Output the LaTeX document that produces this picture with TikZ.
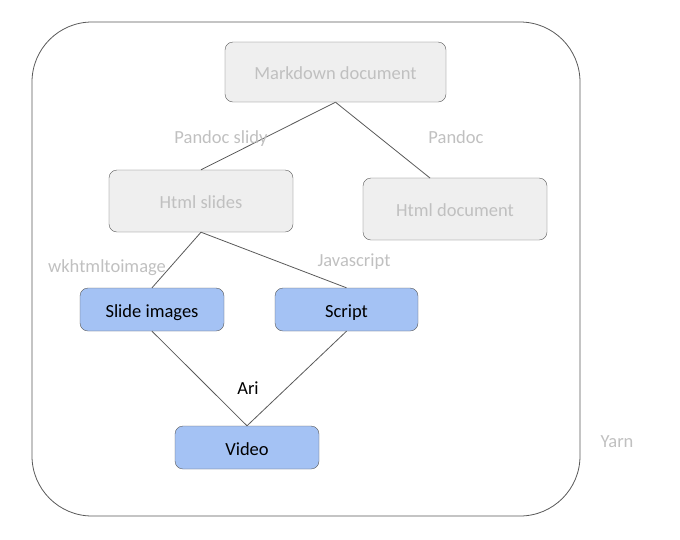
\documentclass[tikz,border=0pt]{standalone}
\usepackage{fontspec}
\setmainfont{Carlito}
\definecolor{greyfill}{HTML}{EFEFEF}
\definecolor{greytext}{HTML}{C0C0C0}
\definecolor{bluefill}{HTML}{A4C2F4}
\definecolor{edgecol}{HTML}{595959}
\tikzset{
  txt/.style={inner sep=0pt, text height=15pt, text depth=0pt, font=\fontsize{18.5}{22}\selectfont},
  greybox/.style={txt, draw=edgecol, fill=greyfill, rounded corners=8pt, text=greytext},
  bluebox/.style={txt, draw=edgecol, fill=bluefill, rounded corners=8pt, text=black},
  conn/.style={draw=edgecol, line width=0.8pt},
  greylabel/.style={txt, text=greytext},
  blacklabel/.style={txt, text=black},
}
\begin{document}
\begin{tikzpicture}[x=1pt,y=-1pt]
\useasboundingbox (0,0) rectangle (680,539);
\node[draw=edgecol, line width=0.8pt, rounded corners=60pt, minimum width=548pt, minimum height=494pt, inner sep=0pt] (yarnbox) at (306,269) {};
\node[greybox, minimum width=221pt, minimum height=60pt] (md) at (335.5,72) {Markdown document};
\node[greybox, minimum width=184pt, minimum height=62pt] (hs) at (201,201) {Html slides};
\node[greybox, minimum width=184pt, minimum height=62pt] (hd) at (455,209) {Html document};
\node[bluebox, minimum width=144pt, minimum height=43pt] (si) at (152,309.5) {Slide images};
\node[bluebox, minimum width=143pt, minimum height=43pt] (sc) at (346.5,309.5) {Script};
\node[bluebox, minimum width=144pt, minimum height=43pt] (vi) at (247,447.5) {Video};
\coordinate (hdtop) at (430,178);
\draw[conn] (md.south) -- (hs.north);
\draw[conn] (md.south) -- (hdtop);
\draw[conn] (hs.south) -- (si.north);
\draw[conn] (hs.south) -- (sc.north);
\draw[conn] (si.south) -- (vi.north);
\draw[conn] (sc.south) -- (vi.north);
\node[greylabel] (l1) at (221,136) {Pandoc slidy};
\node[greylabel] (l2) at (456,136) {Pandoc};
\node[greylabel] (l3) at (107,265) {wkhtmltoimage};
\node[greylabel] (l4) at (354,259) {Javascript};
\node[blacklabel] (l5) at (248,387) {Ari};
\node[greylabel] (l6) at (617,440) {Yarn};
\end{tikzpicture}
\end{document}
